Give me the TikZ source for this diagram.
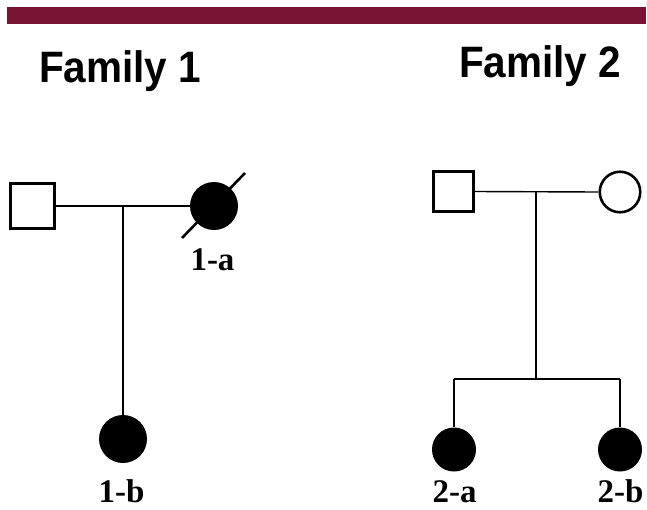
\documentclass[tikz,border=0pt]{standalone}
\usepackage{fontspec}
\setmainfont{Liberation Serif}
\newfontfamily\arialfont{Liberation Sans}
\definecolor{barmaroon}{RGB}{120,20,52}
\begin{document}
\begin{tikzpicture}[x=1pt,y=-1pt,
  male/.style={draw,line width=2.6pt,minimum size=#1,inner sep=0pt,rectangle},
  femopen/.style={draw,line width=2.6pt,minimum size=#1,inner sep=0pt,circle},
  femfill/.style={fill=black,minimum size=#1,inner sep=0pt,circle},
  rel/.style={line width=1.4pt},
  lbl/.style={font=\fontsize{33}{33}\selectfont\bfseries,anchor=base,inner sep=0pt},
  title/.style={font=\arialfont\fontsize{44}{44}\selectfont\bfseries,anchor=base west,inner sep=0pt,xscale=0.92}]
\useasboundingbox (0,0) rectangle (647,509);
\fill[barmaroon] (7,7) rectangle (646,24);
\node[title] (t1) at (39,82) {Family 1};
\node[title] (t2) at (459,77) {Family 2};
% Family 1
\node[male=44.5pt] (f1) at (32.5,206) {};
\node[femfill=48pt] (m1) at (214,206) {};
\node[femfill=48pt] (c1b) at (123,439) {};
\coordinate (j1) at (123,206);
\coordinate (s1) at (182,238);
\coordinate (s2) at (245,173);
\draw[rel] (f1.east) -- (m1.west);
\draw[rel] (j1) -- (c1b.north);
\draw[line width=2.6pt] (s1) -- (s2);
\node[lbl] (l1a) at (212.5,270) {1-a};
\node[lbl] (l1b) at (121.5,502) {1-b};
% Family 2
\node[male=40.5pt] (f2) at (453.5,191.5) {};
\node[femopen=40.5pt] (m2) at (620,192) {};
\coordinate (j2) at (536,192);
\coordinate (j3) at (536,379);
\coordinate (k1) at (454,379);
\coordinate (k2) at (620,379);
\node[femfill=44pt] (c2a) at (454,449.5) {};
\node[femfill=44pt] (c2b) at (620,449.5) {};
\draw[rel] (f2.east) -- (m2.west);
\draw[rel] (j2) -- (j3);
\draw[rel] (k1) -- (k2);
\draw[rel] (k1) -- (c2a.north);
\draw[rel] (k2) -- (c2b.north);
\node[lbl] (l2a) at (454.5,502) {2-a};
\node[lbl] (l2b) at (620.5,502) {2-b};
\end{tikzpicture}
\end{document}
